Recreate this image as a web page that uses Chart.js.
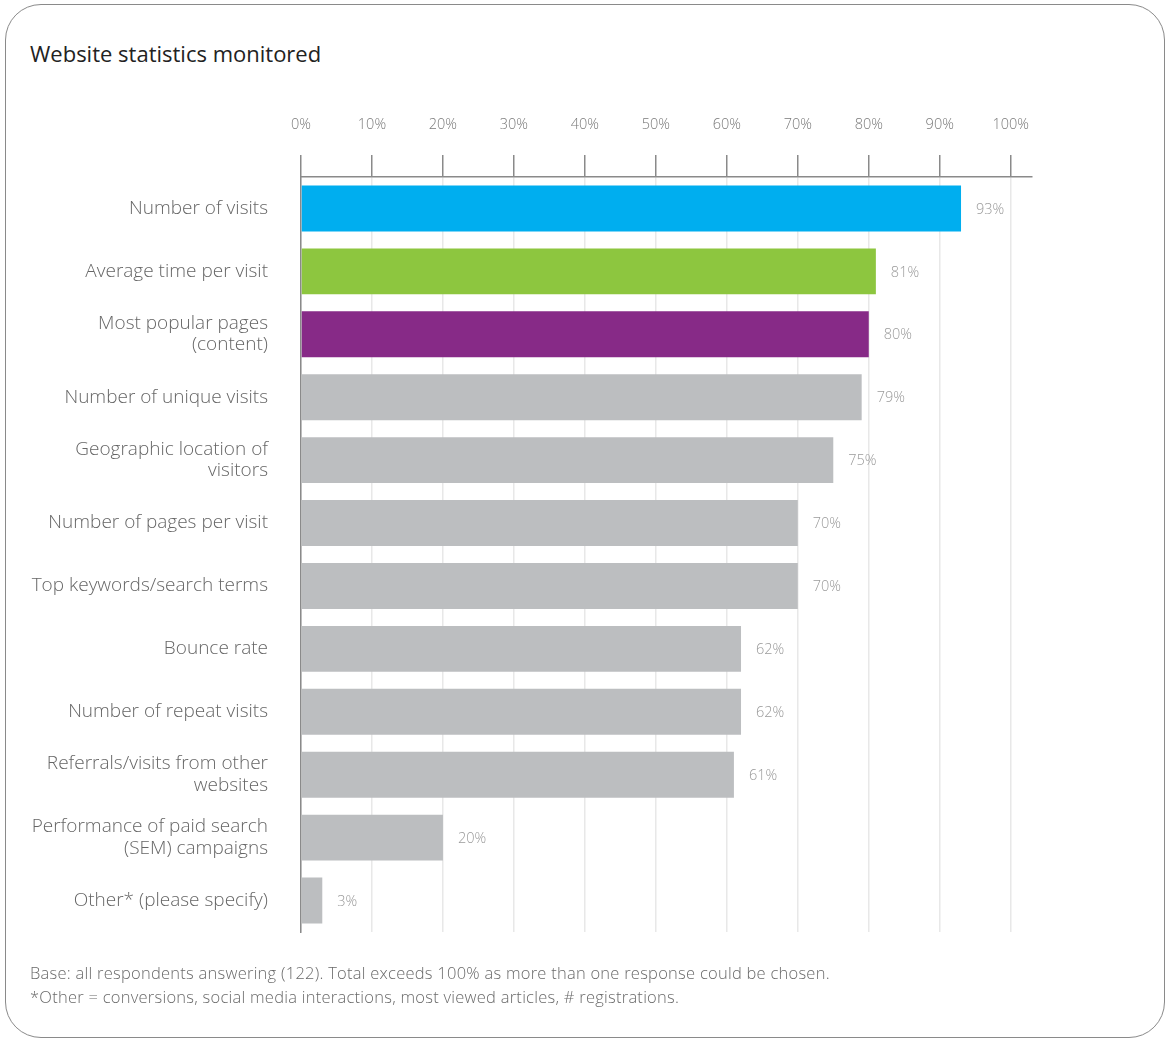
<!DOCTYPE html>
<html>
<head>
<meta charset="utf-8">
<script src="https://cdn.jsdelivr.net/npm/chart.js@4.4.1/dist/chart.umd.min.js"></script>
<style>
  html, body { margin: 0; padding: 0; background: #fff; }
  body { width: 1167px; height: 1039px; position: relative; overflow: hidden; font-family: "Open Sans", sans-serif; }
  .card { position: absolute; left: 5px; top: 4px; width: 1160px; height: 1034px; border: 1.5px solid #8a8a8a; border-radius: 36px; box-sizing: border-box; }
  .title { position: absolute; left: 30px; top: 38px; font-size: 22px; color: #222; }
  .notes { position: absolute; left: 30px; top: 961px; font-size: 16.5px; color: #6a6a6a; line-height: 24px; font-weight: 300; letter-spacing: 0.25px; }
  #wrap { position: absolute; left: 0; top: 0; width: 1167px; height: 1039px; }
</style>
</head>
<body>
<div class="card"></div>
<div class="title">Website statistics monitored</div>
<div id="wrap"><canvas id="statsChart"></canvas></div>
<div class="notes">
  Base: all respondents answering (122). Total exceeds 100% as more than one response could be chosen.<br>
  *Other = conversions, social media interactions, most viewed articles, # registrations.
</div>
<script>
// categories and percentages
const categories = [
  'Number of visits',
  'Average time per visit',
  ['Most popular pages', '(content)'],
  'Number of unique visits',
  ['Geographic location of', 'visitors'],
  'Number of pages per visit',
  'Top keywords/search terms',
  'Bounce rate',
  'Number of repeat visits',
  ['Referrals/visits from other', 'websites'],
  ['Performance of paid search', '(SEM) campaigns'],
  'Other* (please specify)'
];
const percentages = [93, 81, 80, 79, 75, 70, 70, 62, 62, 61, 20, 3];
const barColors = ['#00aeef', '#8dc63f', '#872a87', '#bcbec0', '#bcbec0', '#bcbec0',
  '#bcbec0', '#bcbec0', '#bcbec0', '#bcbec0', '#bcbec0', '#bcbec0'];
const tickValues = [0, 10, 20, 30, 40, 50, 60, 70, 80, 90, 100];

const FONT = '"Open Sans", sans-serif';

// prints the percentage just past the end of each bar
const valueLabels = {
  id: 'valueLabels',
  afterDatasetsDraw(chart) {
    const ctx = chart.ctx;
    const meta = chart.getDatasetMeta(0);
    ctx.save();
    ctx.font = '300 14.5px ' + FONT;
    ctx.fillStyle = '#9a9a9a';
    ctx.textAlign = 'left';
    ctx.textBaseline = 'middle';
    meta.data.forEach((bar, i) => {
      ctx.fillText(percentages[i] + '%', bar.x + 15, bar.y + 1);
    });
    ctx.restore();
  }
};

new Chart(document.getElementById('statsChart'), {
  type: 'bar',
  data: {
    labels: categories,
    datasets: [{
      data: percentages,
      backgroundColor: barColors,
      borderWidth: 0,
      categoryPercentage: 1,
      barPercentage: 0.73
    }]
  },
  options: {
    indexAxis: 'y',
    responsive: true,
    maintainAspectRatio: false,
    animation: false,
    layout: { padding: { top: 0, right: 135, bottom: 107, left: 0 } },
    plugins: { legend: { display: false }, tooltip: { enabled: false } },
    scales: {
      x: {
        position: 'top',
        min: 0,
        max: 103,
        afterBuildTicks(scale) {
          scale.ticks = tickValues.map(v => ({ value: v }));
        },
        afterFit(scale) { scale.height = 177; },
        grid: { color: '#e8e8e8', lineWidth: 1.5, tickColor: '#8a8a8a', tickLength: 22, tickWidth: 1.5 },
        border: { color: '#8a8a8a', width: 1.5 },
        ticks: {
          padding: 21,
          color: '#7a7a7a',
          font: { family: FONT, size: 14.5, weight: 300 },
          callback: v => v + '%'
        }
      },
      y: {
        afterFit(scale) { scale.width = 301; },
        grid: { display: false, drawTicks: false },
        border: { color: '#8a8a8a', width: 1.5 },
        ticks: {
          padding: 33,
          color: '#666',
          font: { family: FONT, size: 19, weight: 300, lineHeight: 1.12 }
        }
      }
    }
  },
  plugins: [valueLabels]
});
</script>
</body>
</html>
